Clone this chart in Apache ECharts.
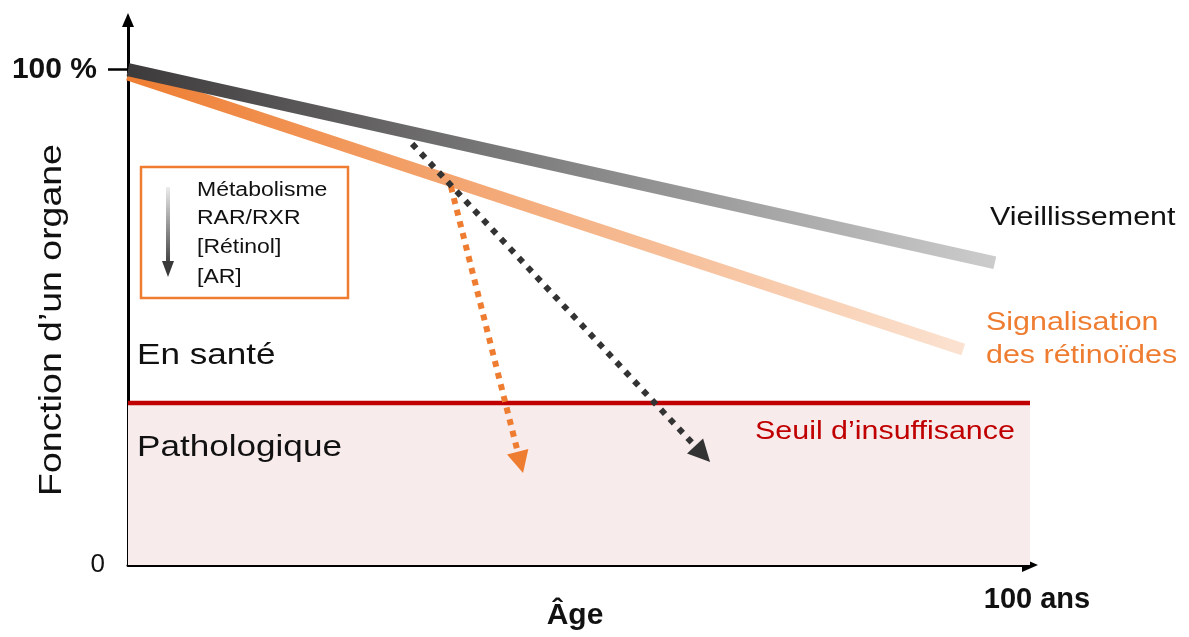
<!DOCTYPE html>
<html>
<head>
<meta charset="utf-8">
<script src="https://cdn.jsdelivr.net/npm/echarts@6/dist/echarts.min.js"></script>
<style>
html,body{margin:0;padding:0;background:#fff;}
#chart{width:1189px;height:637px;}
</style>
</head>
<body>
<div id="chart"></div>
<script>
// ---- data ----
const xTickValues = [100];
const xTickLabels = ['100 ans'];
const yTickValues = [0, 100];
const yTickLabels = ['0', '100 %'];
const vieillissement = [[0, 100], [96.1, 61.0]];
const signalisation = [[0, 99.0], [92.6, 43.5]];
const seuilInsuffisance = [[0, 32.7], [100, 32.7]];
const declinVieillissement = [[31.5, 85.0], [63.7, 22.4]];
const declinRetinoides = [[35.8, 76.4], [43.5, 20.7]];
const legendLines = ['Métabolisme', 'RAR/RXR', '[Rétinol]', '[AR]'];

const FONT = '"Liberation Sans", Arial, sans-serif';
const chart = echarts.init(document.getElementById('chart'));

function txt(x, y, text, size, color, o) {
  o = o || {};
  return {
    type: 'text', x: x, y: y, scaleX: o.sx == null ? 1.17 : o.sx, rotation: o.rot || 0,
    z: 100,
    style: {
      text: text, x: 0, y: 0, fontSize: size, fontFamily: FONT,
      fontWeight: o.bold ? 'bold' : 'normal', fill: color,
      textAlign: o.align || 'left', textVerticalAlign: 'middle'
    }
  };
}

const legendY = [190.5, 218, 247, 277];
const graphics = [
  txt(52, 320, 'Fonction d’un organe', 32, '#111', {rot: Math.PI / 2, align: 'center'}),
  txt(575, 616, 'Âge', 30, '#111', {bold: true, sx: 1, align: 'center'}),
  txt(990, 218, 'Vieillissement', 26, '#111'),
  txt(986, 323, 'Signalisation', 26, '#ee7d31'),
  txt(986, 356, 'des rétinoïdes', 26, '#ee7d31'),
  txt(137, 356, 'En santé', 30, '#111'),
  txt(137, 448, 'Pathologique', 30, '#111'),
  txt(755, 432, 'Seuil d’insuffisance', 26, '#c00000'),
  {
    type: 'rect', z: 90,
    shape: {x: 141, y: 167, width: 207, height: 131},
    style: {fill: '#fff', stroke: '#ee7d31', lineWidth: 2.5}
  },
  {
    type: 'line', z: 95,
    shape: {x1: 168, y1: 187, x2: 168, y2: 264},
    style: {
      lineWidth: 4,
      stroke: new echarts.graphic.LinearGradient(0, 0, 0, 1, [
        {offset: 0, color: '#f2f2f2'}, {offset: 1, color: '#3a3a3a'}
      ])
    }
  },
  {
    type: 'polygon', z: 95,
    shape: {points: [[162, 261], [174, 261], [168, 277]]},
    style: {fill: '#3a3a3a'}
  }
];
legendLines.forEach(function (t, i) {
  graphics.push(txt(197, legendY[i], t, 20, '#111', {sx: 1.15}));
});

const option = {
  animation: false,
  backgroundColor: '#fff',
  grid: {left: 128, right: 159, top: 20, bottom: 72},
  xAxis: {
    type: 'value', min: 0, max: 100,
    axisLine: {show: true, lineStyle: {color: '#000', width: 3}, symbol: ['none', 'triangle'], symbolSize: [14, 16]},
    axisTick: {show: false},
    splitLine: {show: false},
    axisLabel: {
      customValues: xTickValues,
      formatter: function (v) { return xTickLabels[xTickValues.indexOf(v)]; },
      fontSize: 29, fontWeight: 'bold', color: '#111', fontFamily: FONT, margin: 20,
      padding: [0, 0, 0, 14]
    }
  },
  yAxis: {
    type: 'value', min: 0, max: 110,
    axisLine: {show: true, onZero: false, lineStyle: {color: '#000', width: 3}, symbol: ['none', 'triangle'], symbolSize: [12, 14]},
    axisTick: {show: true, customValues: [100], length: 20, lineStyle: {color: '#000', width: 2.5}},
    splitLine: {show: false},
    axisLabel: {
      customValues: yTickValues,
      formatter: function (v) {
        const l = yTickLabels[yTickValues.indexOf(v)];
        return v === 100 ? '{b|' + l + '}' : '{n|' + l + '}';
      },
      margin: 23,
      rich: {
        b: {fontSize: 30, fontWeight: 'bold', color: '#111', fontFamily: FONT, padding: [0, 8, 0, 0]},
        n: {fontSize: 26, color: '#111', fontFamily: FONT}
      }
    }
  },
  series: [
    {
      type: 'line', data: seuilInsuffisance, symbol: 'none', z: 1,
      lineStyle: {color: '#c00000', width: 4.5},
      areaStyle: {color: '#f8ebec', opacity: 1}
    },
    {
      type: 'line', data: signalisation, symbol: 'none', z: 2,
      lineStyle: {
        width: 12, cap: 'butt',
        color: new echarts.graphic.LinearGradient(0, 0, 1, 0, [
          {offset: 0, color: '#ee7d31'}, {offset: 1, color: '#fbe3d2'}
        ])
      }
    },
    {
      type: 'line', data: vieillissement, symbol: 'none', z: 3,
      lineStyle: {
        width: 13, cap: 'butt',
        color: new echarts.graphic.LinearGradient(0, 0, 1, 0, [
          {offset: 0, color: '#3b3939'}, {offset: 1, color: '#cdcdcd'}
        ])
      }
    },
    {
      type: 'lines', coordinateSystem: 'cartesian2d', z: 4,
      symbol: ['none', 'triangle'], symbolSize: [18, 22],
      lineStyle: {color: '#ee7d31', width: 6, type: [6, 6], opacity: 1, curveness: 0},
      data: [{coords: declinRetinoides}]
    },
    {
      type: 'lines', coordinateSystem: 'cartesian2d', z: 5,
      symbol: ['none', 'triangle'], symbolSize: [18, 22],
      lineStyle: {color: '#333', width: 6, type: [6, 7], opacity: 1, curveness: 0},
      data: [{coords: declinVieillissement}]
    }
  ],
  graphic: graphics
};
chart.setOption(option);
</script>
</body>
</html>
